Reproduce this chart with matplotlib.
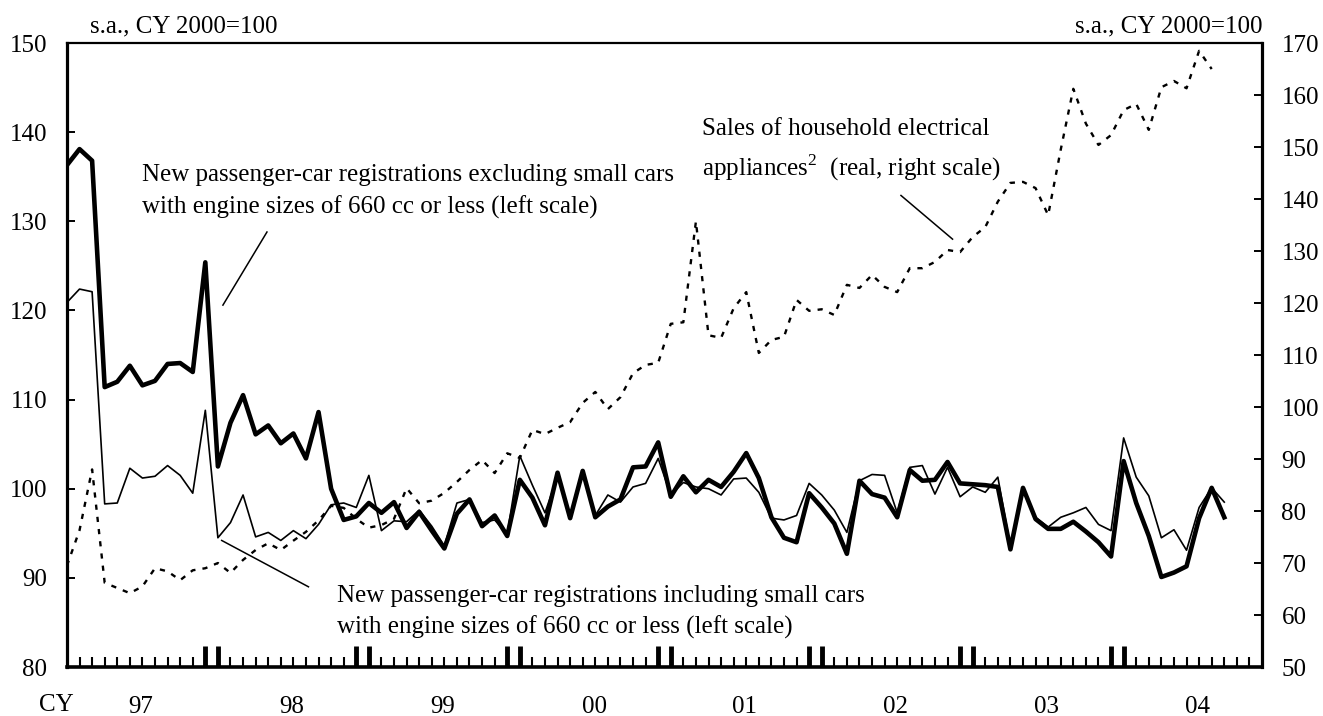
import matplotlib
matplotlib.use("Agg")
import matplotlib.pyplot as plt
import numpy as np

plt.rcParams['font.family'] = ['Liberation Serif', 'DejaVu Serif']
plt.rcParams['mathtext.fontset'] = 'custom'
plt.rcParams['mathtext.rm'] = 'Liberation Serif'

# monthly data, index 0 = Jan 1997
excl_small = [136.3, 138.1, 136.8, 111.4, 112.0, 113.8, 111.6, 112.1, 114.0, 114.1, 113.1, 125.4,
              102.5, 107.4, 110.5, 106.1, 107.1, 105.1, 106.2, 103.4, 108.6, 100.0, 96.5, 96.9,
              98.4, 97.3, 98.5, 95.6, 97.4, 95.3, 93.3, 97.2, 98.8, 95.8, 97.0, 94.7,
              101.0, 99.0, 95.9, 101.8, 96.7, 102.0, 96.8, 98.0, 98.8, 102.4, 102.5, 105.2,
              99.1, 101.4, 99.6, 101.0, 100.2, 101.9, 104.0, 101.2, 96.8, 94.5, 94.0, 99.5,
              97.9, 96.1, 92.7, 100.9, 99.4, 99.0, 96.8, 102.1, 100.9, 101.0, 103.0, 100.6,
              100.5, 100.4, 100.2, 93.2, 100.1, 96.6, 95.5, 95.5, 96.3, 95.2, 94.0, 92.4,
              103.1, 98.4, 94.7, 90.1, 90.6, 91.3, 96.7, 100.1, 96.8]

incl_small = [120.9, 122.4, 122.1, 98.3, 98.4, 102.3, 101.2, 101.4, 102.6, 101.5, 99.5, 108.8,
              94.5, 96.2, 99.3, 94.6, 95.1, 94.2, 95.3, 94.4, 96.0, 98.2, 98.4, 97.9,
              101.5, 95.3, 96.4, 96.3, 97.6, 95.8, 93.6, 98.4, 98.8, 96.2, 96.5, 94.9,
              103.7, 100.4, 97.3, 101.4, 96.9, 101.6, 97.0, 99.3, 98.5, 100.2, 100.6, 103.4,
              99.3, 100.7, 100.2, 100.0, 99.3, 101.1, 101.2, 99.6, 96.7, 96.5, 97.0, 100.6,
              99.3, 97.6, 95.1, 100.9, 101.6, 101.5, 97.3, 102.4, 102.6, 99.4, 102.4, 99.1,
              100.2, 99.6, 101.3, 93.5, 100.1, 96.8, 95.7, 96.8, 97.3, 97.9, 96.0, 95.3,
              105.7, 101.3, 99.2, 94.5, 95.4, 93.1, 97.9, 100.1, 98.5]

appliances = [69.5, 76.3, 88.0, 66.2, 65.2, 64.2, 65.5, 69.0, 68.4, 66.7, 68.6, 69.0,
              70.0, 68.1, 70.6, 72.5, 73.8, 72.5, 74.3, 76.0, 78.2, 81.0, 80.6, 78.5,
              76.8, 77.3, 78.5, 84.4, 81.5, 82.0, 83.5, 85.6, 87.9, 89.8, 87.3, 91.1,
              90.2, 95.6, 94.8, 96.0, 97.1, 100.8, 102.9, 99.6, 101.9, 106.5, 108.1, 108.5,
              116.0, 116.3, 135.7, 113.8, 113.3, 119.0, 122.1, 110.4, 112.9, 113.5, 120.6, 118.5,
              118.8, 117.7, 123.5, 122.9, 125.4, 123.1, 122.1, 126.7, 126.7, 127.9, 130.2, 129.8,
              132.7, 134.6, 139.5, 143.1, 143.3, 142.1, 136.9, 149.5, 161.2, 154.5, 150.4, 152.3,
              157.1, 158.3, 153.3, 161.5, 162.7, 161.3, 168.5, 165.0]

year_labels = ['97', '98', '99', '00', '01', '02', '03', '04']

fig = plt.figure(figsize=(13.23, 7.16), dpi=100)
ax = fig.add_axes([0.0506, 0.0684, 0.9033, 0.8715])
ax2 = ax.twinx()

ax2.plot(np.arange(len(appliances)), appliances, color='black', lw=1.7,
         linestyle=(0, (2.2, 3.0)), zorder=2)
ax.plot(np.arange(len(incl_small)), incl_small, color='black', lw=1.2, zorder=3)
ax.plot(np.arange(len(excl_small)), excl_small, color='black', lw=3.3, zorder=4)
ax.set_zorder(ax2.get_zorder() + 1)
ax.patch.set_visible(False)

ax.set_xlim(0, 95)
ax.set_ylim(80, 150)
ax2.set_ylim(50, 170)
ax.set_yticks(np.arange(80, 151, 10))
ax2.set_yticks(np.arange(50, 171, 10))

fs = 18
ax.tick_params(axis='y', direction='in', length=6, width=1.4, labelsize=fs, pad=14)
ax2.tick_params(axis='y', direction='in', length=6, width=1.4, labelsize=fs, pad=14)

# month ticks, thick pairs around each turn of the year
ax.set_xticks(np.arange(1, 95), minor=True)
thick = [p for y in range(7) for p in (12 * y + 11, 12 * y + 12)]
ax.set_xticks(thick)
ax.set_xticklabels([])
ax.tick_params(axis='x', which='minor', direction='in', length=7, width=1.5)
ax.tick_params(axis='x', which='major', direction='in', length=15, width=3.5)

sec = ax.secondary_xaxis('bottom')
sec.set_xticks([12 * k + 5.9 for k in range(8)], year_labels)
sec.tick_params(length=0, labelsize=fs, pad=21)
sec.spines['bottom'].set_visible(False)

for s in ax2.spines.values():
    s.set_visible(False)
ax2.spines['right'].set_visible(True)
ax2.spines['right'].set_linewidth(2.3)
ax.spines['left'].set_linewidth(2.3)
ax.spines['bottom'].set_linewidth(2.6)
ax.spines['top'].set_linewidth(1.6)
ax.spines['right'].set_visible(False)

ax.text(0.019, 1.026, 's.a., CY 2000=100', transform=ax.transAxes, fontsize=fs, va='center', ha='left')
ax.text(1.0, 1.026, 's.a., CY 2000=100', transform=ax.transAxes, fontsize=fs, va='center', ha='right')
ax.text(-0.009, -0.061, 'CY', transform=ax.transAxes, fontsize=fs, va='center', ha='center')

ax.text(5.95, 133.35, 'New passenger-car registrations excluding small cars\n'
        'with engine sizes of 660 cc or less (left scale)', fontsize=fs,
        va='center', ha='left', linespacing=1.5)
ax.plot([15.9, 12.4], [128.8, 120.6], color='black', lw=1.1)

ax.text(50.5, 137.95, 'Sales of household electrical\n'
        r'appliances$^{\mathrm{2}}$  (real, right scale)', fontsize=fs,
        va='center', ha='left', linespacing=1.55)
ax.plot([66.3, 70.4], [132.9, 128.0], color='black', lw=1.1)

ax.text(21.5, 86.2, 'New passenger-car registrations including small cars\n'
        'with engine sizes of 660 cc or less (left scale)', fontsize=fs,
        va='center', ha='left', linespacing=1.45)
ax.plot([12.3, 19.2], [94.2, 89.0], color='black', lw=1.1)

fig.savefig('out.png', dpi=100)
